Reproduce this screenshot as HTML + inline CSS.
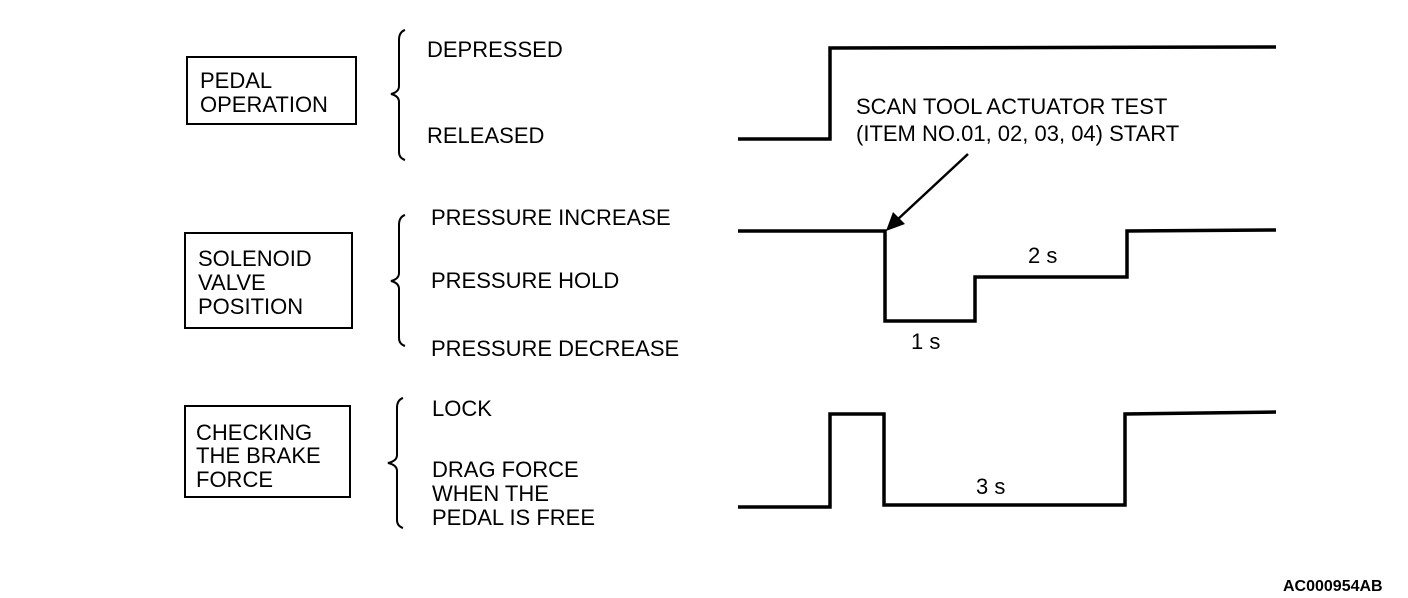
<!DOCTYPE html>
<html><head><style>body{margin:0;background:#fff}svg{display:block}text{font-family:"Liberation Sans",sans-serif;font-size:22px;fill:#000}</style></head>
<body>
<svg width="1408" height="598" viewBox="0 0 1408 598">
<g fill="none" stroke="#000" stroke-width="2">
<rect x="187" y="57" width="169" height="67"/>
<rect x="185" y="233" width="167" height="95"/>
<rect x="185" y="406" width="165" height="91"/>
<path d="M405 30 Q399 32 399 40 L399 86 Q399 92 391 94 Q399 96 399 102 L399 152 Q399 158 405 160"/>
<path d="M405 215 Q399 217 399 225 L399 273 Q399 279 391 281 Q399 283 399 289 L399 338 Q399 344 405 346"/>
<path d="M403 398 Q397 400 397 408 L397 455 Q397 461 388 463 Q397 465 397 471 L397 520 Q397 526 403 528"/>
</g>
<g fill="none" stroke="#000" stroke-width="3.5" stroke-linejoin="miter">
<path d="M738 139 L830 139 L830 48 L1276 47"/>
<path d="M738 231 L885 231 L885 321 L975 321 L975 277 L1127 277 L1127 231 L1276 230"/>
<path d="M738 507 L830 507 L830 414 L884 414 L884 505 L1125 505 L1125 414 L1276 412"/>
</g>
<line x1="968" y1="154" x2="897" y2="220" stroke="#000" stroke-width="2.5"/>
<polygon points="886,231 893,212 905,224" fill="#000"/>
<text x="200" y="88">PEDAL</text><text x="200" y="112">OPERATION</text>
<text x="198" y="266">SOLENOID</text><text x="198" y="290">VALVE</text><text x="198" y="314">POSITION</text>
<text x="196" y="440">CHECKING</text><text x="196" y="463">THE BRAKE</text><text x="196" y="487">FORCE</text>
<text x="427" y="57">DEPRESSED</text><text x="427" y="143">RELEASED</text>
<text x="431" y="225">PRESSURE INCREASE</text><text x="431" y="288">PRESSURE HOLD</text><text x="431" y="356">PRESSURE DECREASE</text>
<text x="432" y="416">LOCK</text><text x="432" y="477">DRAG FORCE</text><text x="432" y="501">WHEN THE</text><text x="432" y="525">PEDAL IS FREE</text>
<text x="856" y="114">SCAN TOOL ACTUATOR TEST</text><text x="856" y="141">(ITEM NO.01, 02, 03, 04) START</text>
<text x="1028" y="263">2 s</text><text x="911" y="349">1 s</text><text x="976" y="494">3 s</text>
<text x="1283" y="591" style="font-size:16px;font-weight:bold">AC000954AB</text>
</svg>
</body></html>
